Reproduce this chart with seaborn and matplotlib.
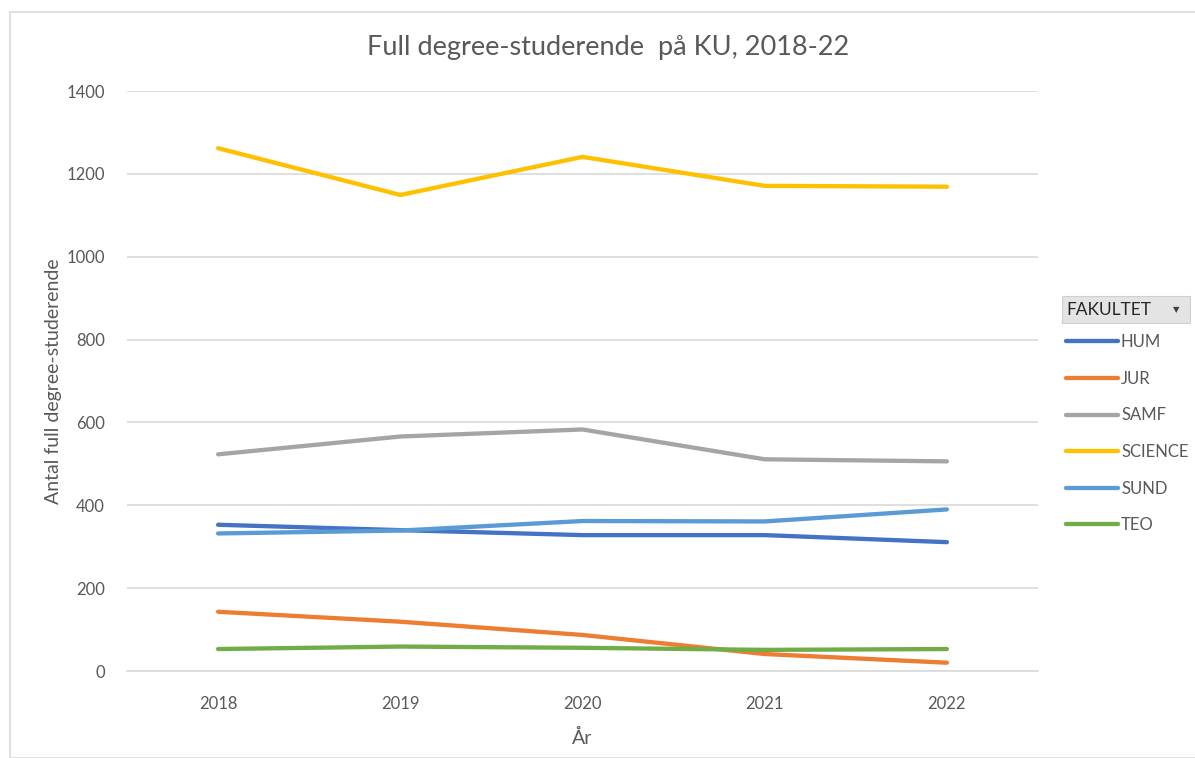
import pandas as pd
import seaborn as sns
import matplotlib.pyplot as plt
from matplotlib.patches import Rectangle

years = [2018, 2019, 2020, 2021, 2022]
hum = [353, 340, 328, 328, 311]
jur = [143, 119, 87, 41, 20]
samf = [523, 566, 583, 511, 506]
science = [1262, 1149, 1241, 1171, 1169]
sund = [332, 339, 362, 361, 390]
teo = [53, 59, 56, 51, 53]

fakulteter = ["HUM", "JUR", "SAMF", "SCIENCE", "SUND", "TEO"]
colors = ["#4472C4", "#ED7D31", "#A5A5A5", "#FFC000", "#5B9BD5", "#70AD47"]

rows = []
for name, vals in zip(fakulteter, [hum, jur, samf, science, sund, teo]):
    for yr, v in zip(years, vals):
        rows.append({"År": yr, "Antal": v, "FAKULTET": name})
df = pd.DataFrame(rows)

sns.set_theme(style="white")
plt.rcParams["font.family"] = ["Lato", "DejaVu Sans"]
txt = "#595959"

fig = plt.figure(figsize=(11.95, 7.58), dpi=100)
fig.patches.append(Rectangle((10 / 1195, 0), 1.2, 1 - 12 / 758, transform=fig.transFigure,
                             fill=False, edgecolor="#d9d9d9", lw=1.2))
ax = fig.add_axes([127 / 1195, 1 - 671 / 758, (1038 - 127) / 1195, (671 - 91) / 758])

sns.lineplot(data=df, x="År", y="Antal", hue="FAKULTET", palette=colors,
             hue_order=fakulteter, lw=3.1, ax=ax, solid_capstyle="round")

ax.set_xlim(2017.5, 2022.5)
ax.set_ylim(0, 1400)
ax.set_xticks(years)
ax.set_yticks(range(0, 1401, 200))
ax.yaxis.grid(True, color="#d9d9d9", lw=1.2)
ax.set_axisbelow(True)
for s in ["top", "right", "left"]:
    ax.spines[s].set_visible(False)
ax.spines["bottom"].set_color("#d9d9d9")
ax.spines["bottom"].set_linewidth(1.2)
ax.tick_params(axis="both", colors=txt, labelsize=12, length=0)
ax.tick_params(axis="x", pad=18)
ax.tick_params(axis="y", pad=16)
ax.set_xlabel("År", color=txt, fontsize=14, labelpad=12)
ax.set_ylabel("Antal full degree-studerende", color=txt, fontsize=14, labelpad=3)

fig.text(608 / 1195, 1 - 48 / 758, "Full degree-studerende  på KU, 2018-22",
         ha="center", va="center", fontsize=19.5, color=txt)

handles, labels = ax.get_legend_handles_labels()
ax.legend(handles, labels, loc="upper left", bbox_to_anchor=(1066 / 1195, 1 - 334 / 758),
          bbox_transform=fig.transFigure, frameon=False, fontsize=12, labelcolor=txt,
          handlelength=3.1, handletextpad=0.2, labelspacing=1.24, borderaxespad=0,
          borderpad=0)

fig.patches.append(Rectangle((1062 / 1195, 1 - 323 / 758), 128 / 1195, 27 / 758,
                             transform=fig.transFigure, facecolor="#e4e4e4",
                             edgecolor="#d0d0d0", lw=0.8))
fig.text(1066 / 1195, 1 - 310 / 758, "FAKULTET", ha="left", va="center",
         fontsize=12.5, color="#262626")
fig.text(1176 / 1195, 1 - 310 / 758, "▼", ha="center", va="center",
         fontsize=6, color="#404040", family=["DejaVu Sans"])

fig.savefig("out.png", dpi=100)
